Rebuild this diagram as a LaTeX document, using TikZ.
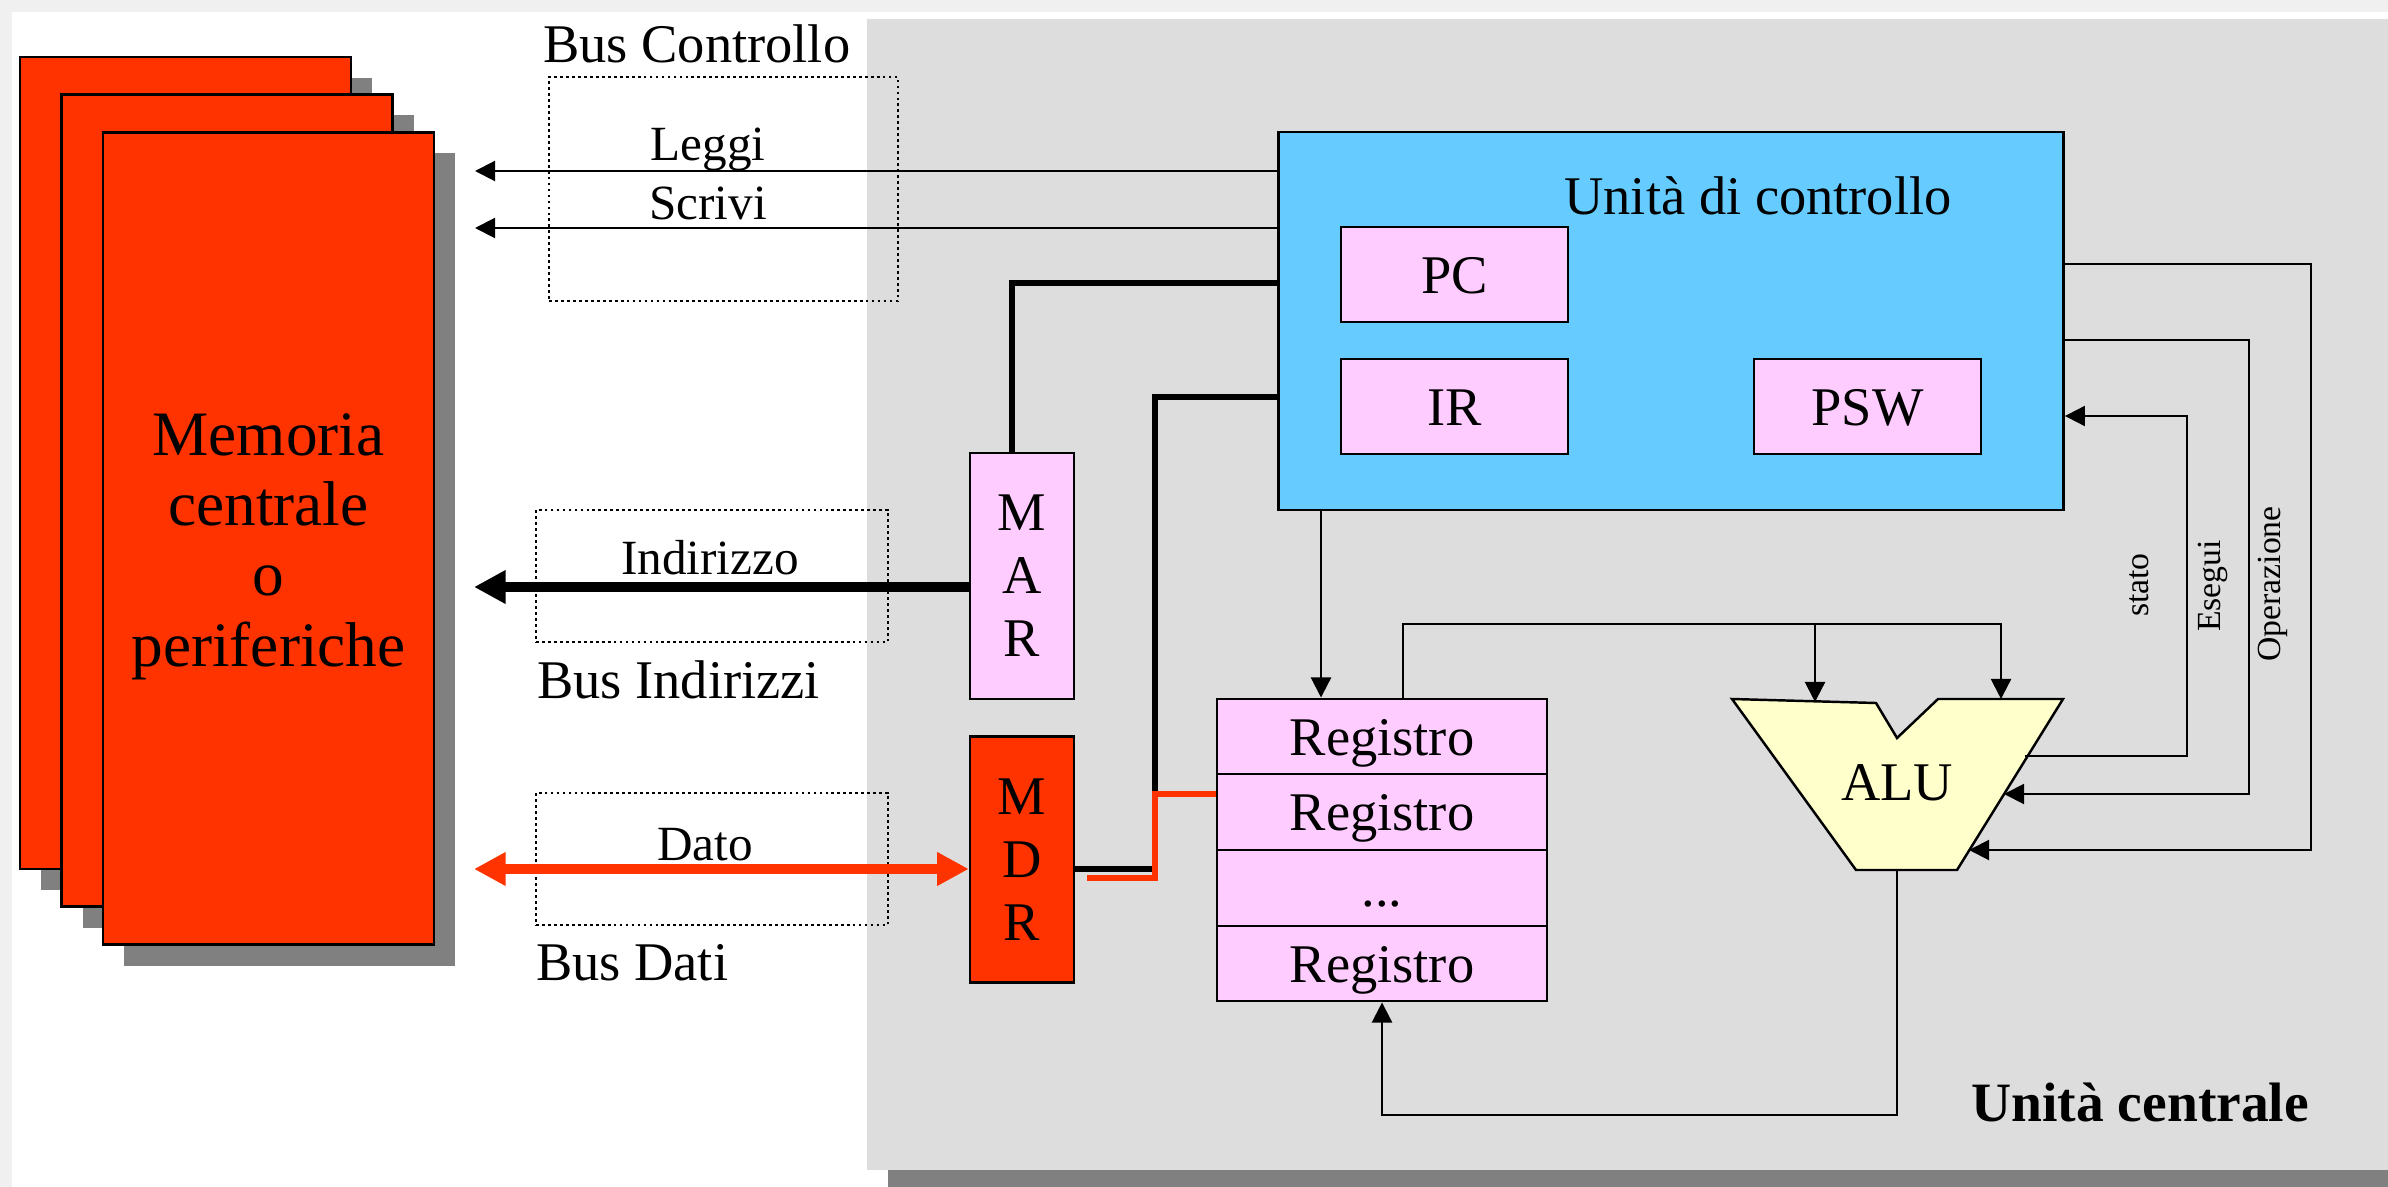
\documentclass[tikz,border=0pt]{standalone}
\usepackage{fontspec}
\setmainfont{Liberation Serif}
\usepackage{xcolor}
\usetikzlibrary{arrows.meta,shadows}
\tikzset{every picture/.style={line width=0.6pt}}

\definecolor{memred}{HTML}{FF3300}
\definecolor{cublue}{HTML}{66CCFF}
\definecolor{regpink}{HTML}{FFCCFF}
\definecolor{aluyel}{HTML}{FFFFCC}
\definecolor{panelgray}{HTML}{DDDDDD}
\definecolor{shadegray}{HTML}{808080}
\definecolor{pagegray}{HTML}{F0F0F0}

\tikzset{
  flatshadow/.style={drop shadow={shadow xshift=0.21cm,shadow yshift=-0.21cm,fill=shadegray,opacity=1}},
  mem/.style={draw,line width=0.8pt,fill=memred,minimum width=3.31cm,minimum height=8.12cm,inner sep=0pt,flatshadow},
  busbox/.style={draw,dash pattern=on 0.8pt off 0.9pt,line width=0.8pt,inner sep=0pt},
  regbox/.style={draw,fill=regpink,line width=0.7pt,inner sep=0pt,text height=14.3pt,text depth=3.5pt,font=\fontsize{15.5}{18}\selectfont},
  mbox/.style={draw,line width=0.7pt,inner sep=0pt,minimum width=1.04cm,minimum height=2.46cm,align=center,font=\fontsize{15.5}{17.9}\selectfont},
  lbl/.style={inner sep=0pt,font=\fontsize{15.5}{18}\selectfont},
  sml/.style={inner sep=0pt,font=\fontsize{14}{16}\selectfont},
  vlbl/.style={inner sep=0pt,rotate=90,anchor=base,font=\fontsize{9.6}{11}\selectfont},
  sig/.style={-{Triangle[length=5.7pt,width=5.7pt]}},
  wide/.style={line width=1.6pt},
  redbus/.style={line width=1.8pt,draw=memred},
  addr/.style={line width=2.85pt,-{Triangle[length=9pt,width=9pt]}},
  dati/.style={line width=2.85pt,draw=memred,fill=memred,{Triangle[length=9pt,width=9pt]}-{Triangle[length=9pt,width=9pt]}}
}

\begin{document}
\begin{tikzpicture}[x=1cm,y=-1cm]
\useasboundingbox (0,0) rectangle (23.88,11.87);
\clip (0,0) rectangle (23.88,11.87);
% page and grey panel
\fill[pagegray] (0,0) rectangle (23.88,11.87);
\fill[white] (0.12,0.12) rectangle (23.88,11.87);
\fill[panelgray,flatshadow] (8.67,0.19) rectangle (24.5,11.70);
%
% memory stack
\node[mem] (m1) at (1.855,4.63) {};
\node[mem] (m2) at (2.27,5.005) {};
\node[mem] (m3) at (2.685,5.385) {};
\node[align=center,inner sep=0pt,font=\fontsize{18}{20}\selectfont] (memtxt) at (2.685,5.465) {Memoria\\centrale\\o\\periferiche};
%
% buses
\node[busbox,minimum width=3.49cm,minimum height=2.24cm] (bcbox) at (7.235,1.89) {};
\node[busbox,minimum width=3.52cm,minimum height=1.32cm] (bibox) at (7.12,5.76) {};
\node[busbox,minimum width=3.52cm,minimum height=1.32cm] (bdbox) at (7.12,8.59) {};
\node[lbl,anchor=base west] (bctxt) at (5.42,0.63) {Bus Controllo};
\node[sml,anchor=base] (lgtxt) at (7.08,1.61) {Leggi};
\node[sml,anchor=base] (sctxt) at (7.08,2.20) {Scrivi};
\node[sml,anchor=base] (indtxt) at (7.10,5.74) {Indirizzo};
\node[lbl,anchor=base west] (bitxt) at (5.36,6.98) {Bus Indirizzi};
\node[sml,anchor=base] (dtxt) at (7.05,8.60) {Dato};
\node[lbl,anchor=base west] (bdtxt) at (5.35,9.80) {Bus Dati};
%
% control unit
\node[draw,fill=cublue,line width=0.8pt,minimum width=7.85cm,minimum height=3.78cm] (cu) at (16.71,3.21) {};
\node[lbl,anchor=base] (cutxt) at (17.58,2.15) {Unità di controllo};
\node[regbox,minimum width=2.27cm,minimum height=0.95cm] (pc) at (14.545,2.745) {PC};
\node[regbox,minimum width=2.27cm,minimum height=0.95cm] (ir) at (14.545,4.065) {IR};
\node[regbox,minimum width=2.27cm,minimum height=0.95cm] (psw) at (18.675,4.065) {PSW};
%
% MAR, MDR
\node[mbox,fill=regpink] (mar) at (10.22,5.76) {M\\A\\R};
\node[mbox,fill=memred] (mdr) at (10.22,8.595) {M\\D\\R};
%
% registers
\node[regbox,minimum width=3.30cm,minimum height=0.755cm] (r1) at (13.82,7.365) {Registro};
\node[regbox,minimum width=3.30cm,minimum height=0.755cm] (r2) at (13.82,8.12) {Registro};
\node[regbox,minimum width=3.30cm,minimum height=0.755cm] (r3) at (13.82,8.88) {...};
\node[regbox,minimum width=3.30cm,minimum height=0.755cm] (r4) at (13.82,9.635) {Registro};
%
% ALU
\draw[fill=aluyel,line width=0.7pt] (17.32,6.99) -- (18.76,7.03) -- (18.97,7.38) -- (19.38,6.99)
  -- (20.63,6.99) -- (19.57,8.70) -- (18.56,8.70) -- cycle;
\node[lbl,anchor=base] (alu) at (18.97,8.00) {ALU};
\node[lbl,anchor=base east,font=\fontsize{15.8}{18}\selectfont\bfseries] (uctxt) at (23.10,11.21) {Unità centrale};
%
\coordinate (lgtip) at (4.75,1.71);
\coordinate (sctip) at (4.75,2.28);
\coordinate (marj) at (10.12,2.83);
\coordinate (indtip) at (4.74,5.87);
\coordinate (mdrj) at (11.55,3.97);
\coordinate (mdrk) at (11.55,8.69);
\coordinate (regj) at (11.55,7.94);
\coordinate (regk) at (11.55,8.78);
\coordinate (regl) at (10.87,8.78);
\coordinate (datotip) at (4.74,8.69);
\coordinate (cureg) at (13.21,5.10);
\coordinate (regbus) at (14.03,6.24);
\coordinate (aluin1) at (18.15,7.02);
\coordinate (aluin2) at (20.01,6.99);
\coordinate (aluout) at (18.97,8.70);
\coordinate (retj) at (18.97,11.15);
\coordinate (alust) at (20.25,7.56);
\coordinate (statoj) at (21.87,7.56);
\coordinate (statok) at (21.87,4.16);
\coordinate (esj) at (22.49,3.40);
\coordinate (esk) at (22.49,7.94);
\coordinate (alues) at (20.04,7.94);
\coordinate (opj) at (23.11,2.64);
\coordinate (opk) at (23.11,8.50);
\coordinate (aluop) at (19.69,8.50);
%
\draw[sig] (cu.west |- lgtip) -- (lgtip);
\draw[sig] (cu.west |- sctip) -- (sctip);
\draw[wide] (cu.west |- marj) -- (marj) -- (mar.north -| marj);
\draw[addr] (mar.west |- indtip) -- (indtip);
\draw[wide] (cu.west |- mdrj) -- (mdrj) -- (mdrk) -- (mdr.east |- mdrk);
\draw[redbus] (r2.west |- regj) -- (regj) -- (regk) -- (regl);
\draw[dati] (mdr.west |- datotip) -- (datotip);
\draw[sig] (cu.south -| cureg) -- (r1.north -| cureg);
\draw[sig] (r1.north -| regbus) -- (regbus) -| (aluin2);
\draw[sig] (aluin1 |- regbus) -- (aluin1);
\draw[sig] (aluout) -- (retj) -| (r4.south);
\draw[sig] (alust) -- (statoj) -- (statok) -- (cu.east |- statok);
\draw[sig] (cu.east |- esj) -- (esj) -- (esk) -- (alues);
\draw[sig] (cu.east |- opj) -- (opj) -- (opk) -- (aluop);
%
\node[vlbl] (statotxt) at (21.48,5.85) {stato};
\node[vlbl] (estxt) at (22.20,5.86) {Esegui};
\node[vlbl] (optxt) at (22.80,5.84) {Operazione};
\end{tikzpicture}
\end{document}
